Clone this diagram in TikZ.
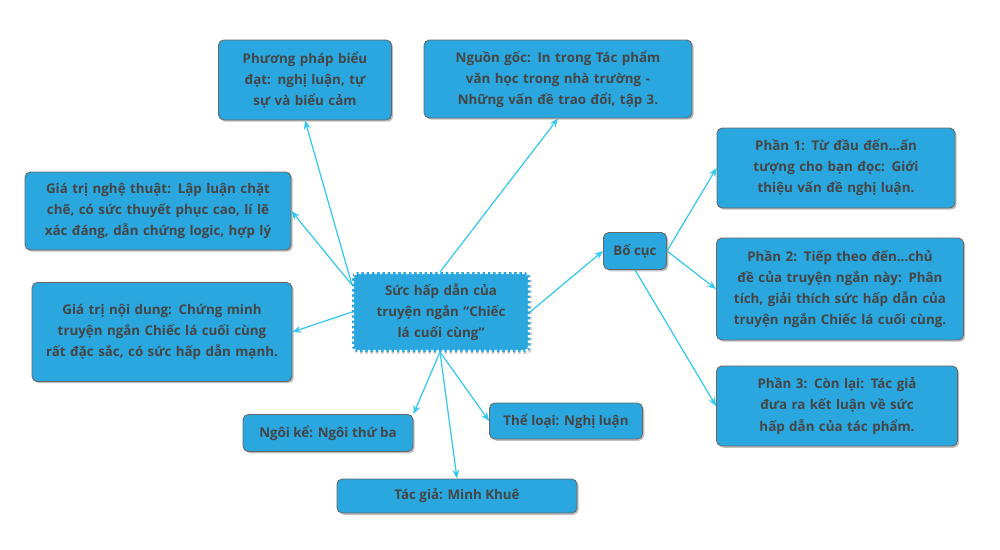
\documentclass[tikz,border=0pt]{standalone}
\usepackage{fontspec}
\setmainfont{Open Sans}
\usetikzlibrary{arrows.meta,shadows}
\definecolor{bx}{HTML}{2AA7DF}
\definecolor{tx}{HTML}{454545}
\definecolor{ln}{HTML}{35C8F0}
\begin{document}
\begin{tikzpicture}[x=0.02cm,y=-0.02cm,
 b/.style={draw=black!60,line width=0.5pt,fill=bx,rounded corners=3pt,text=tx,font=\fontsize{7.6}{12}\selectfont\bfseries,align=center,inner sep=2pt,drop shadow={shadow xshift=1pt,shadow yshift=-1pt,opacity=0.5}},
 e/.style={draw=ln,line width=0.7pt,-{Stealth[length=5pt,width=4pt]}}]
\useasboundingbox (0,0) rectangle (1000,550);
\node[b,minimum width=178\pgflinewidth,minimum width=3.56cm,minimum height=1.6cm,text width=3.2cm,draw=white,double=black!70,dash pattern=on 1.5pt off 1.5pt,line width=1.2pt,double distance=0pt] (c) at (441,312) {Sức hấp dẫn của truyện ngắn "Chiếc lá cuối cùng"};
\node[b,minimum width=3.46cm,minimum height=1.6cm,text width=3.2cm] (pp) at (305,80) {Phương pháp biểu đạt: nghị luận, tự sự và biểu cảm};
\node[b,minimum width=5.36cm,minimum height=1.56cm,text width=5cm] (ng) at (558,79) {Nguồn gốc: In trong Tác phẩm văn học trong nhà trường - Những vấn đề trao đổi, tập 3.};
\node[b,minimum width=5.32cm,minimum height=1.56cm,text width=5.1cm] (nt) at (158,211) {Giá trị nghệ thuật: Lập luận chặt chẽ, có sức thuyết phục cao, lí lẽ xác đáng, dẫn chứng logic, hợp lý};
\node[b,minimum width=5.2cm,minimum height=1.98cm,text width=4.8cm] (nd) at (162,332) {Giá trị nội dung: Chứng minh truyện ngắn Chiếc lá cuối cùng rất đặc sắc, có sức hấp dẫn mạnh.};
\node[b,minimum width=3.4cm,minimum height=0.74cm] (nk) at (328,433) {Ngôi kể: Ngôi thứ ba};
\node[b,minimum width=3.06cm,minimum height=0.72cm] (tl) at (566,421) {Thể loại: Nghị luận};
\node[b,minimum width=4.8cm,minimum height=0.68cm] (tg) at (457,496) {Tác giả: Minh Khuê};
\node[b,minimum width=1.26cm,minimum height=0.74cm] (bc) at (635,251) {Bố cục};
\node[b,minimum width=4.76cm,minimum height=1.6cm,text width=4.5cm] (p1) at (836,168) {Phần 1: Từ đầu đến...ấn tượng cho bạn đọc: Giới thiệu vấn đề nghị luận.};
\node[b,minimum width=4.94cm,minimum height=2.04cm,text width=4.7cm] (p2) at (840,289) {Phần 2: Tiếp theo đến...chủ đề của truyện ngắn này: Phân tích, giải thích sức hấp dẫn của truyện ngắn Chiếc lá cuối cùng.};
\node[b,minimum width=4.82cm,minimum height=1.6cm,text width=4.5cm] (p3) at (837,406) {Phần 3: Còn lại: Tác giả đưa ra kết luận về sức hấp dẫn của tác phẩm.};
\coordinate (c1) at (352,285);
\coordinate (c2) at (440,272);
\coordinate (c3) at (352,312);
\coordinate (c4) at (440,352);
\coordinate (c5) at (530,312);
\draw[e] (c1) -- (pp.south);
\draw[e] (c2) -- (ng.south);
\draw[e] (c1) -- (nt.east);
\draw[e] (c3) -- (nd.east);
\draw[e] (c4) -- (nk.north east);
\draw[e] (c4) -- (tl.west);
\draw[e] (c4) -- (tg.north);
\draw[e] (c5) -- (bc.west);
\draw[e] (bc.east) -- (p1.west);
\draw[e] (bc.east) -- (p2.west);
\draw[e] (bc.south) -- (p3.west);
\end{tikzpicture}
\end{document}
